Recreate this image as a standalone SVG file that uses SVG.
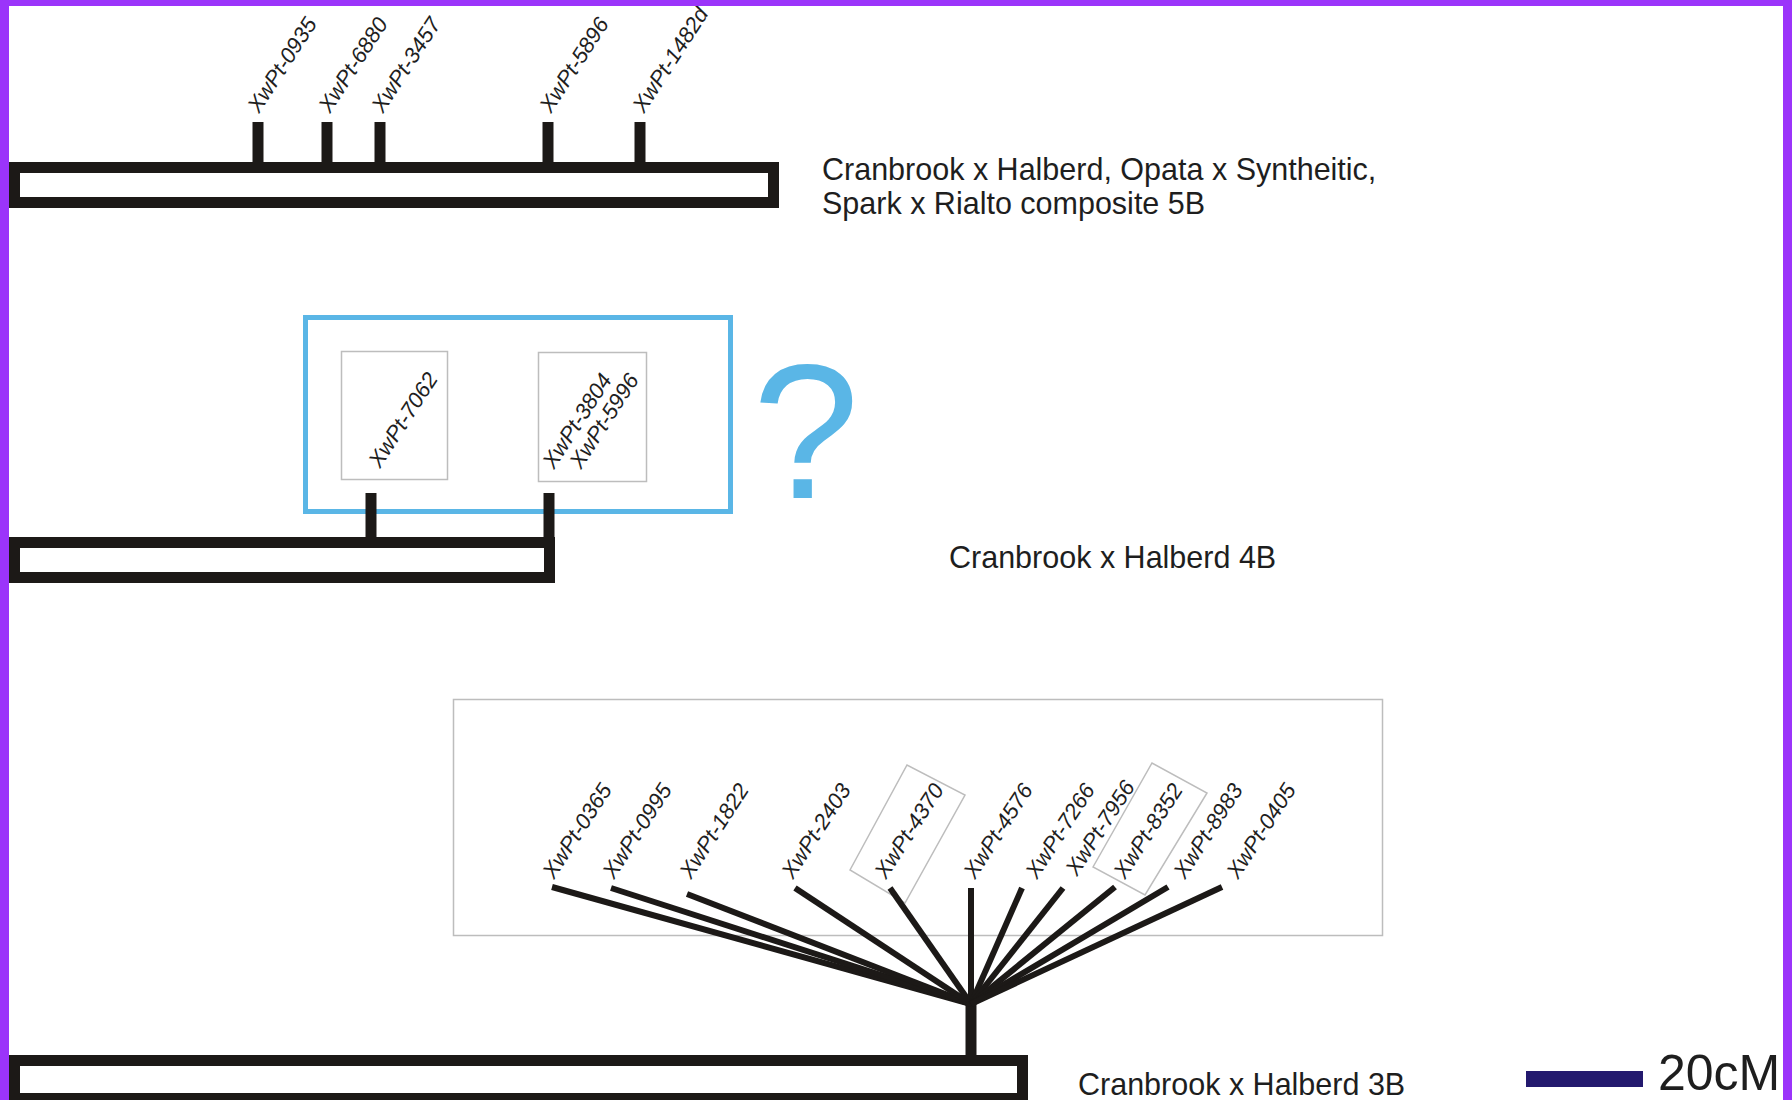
<svg xmlns="http://www.w3.org/2000/svg" width="1792" height="1100" viewBox="0 0 1792 1100">
  <style>
    .chrom { fill: #ffffff; stroke: #1c1917; stroke-width: 11; }
    .tick { stroke: #1c1917; stroke-width: 11; stroke-linecap: butt; }
    .fan { stroke: #1c1917; stroke-width: 6; stroke-linecap: butt; fill: none; }
    .mk { font-family: "Liberation Sans", Arial, sans-serif; font-style: italic; font-size: 22px; fill: #1e1e1e; }
    .title { font-family: "Liberation Sans", Arial, sans-serif; font-size: 30.5px; fill: #1e1e1e; }
    .thin { fill: none; stroke: #bdbdbd; stroke-width: 1.5; }
    .blue { fill: none; stroke: #5ab6e6; stroke-width: 5; }
    .frame { fill: #9b34fa; }
  </style>

  <rect x="0" y="0" width="1792" height="1100" fill="#ffffff"/>

  <!-- 5B composite linkage group -->
  <g id="chr-5B">
    <rect class="chrom" x="14.5" y="167.5" width="759" height="35"/>
    <text class="title" x="822" y="180">Cranbrook x Halberd, Opata x Syntheitic,</text>
    <text class="title" x="822" y="214">Spark x Rialto composite 5B</text>
  </g>
  <g id="markers-5B" class="mk">
    <text transform="translate(259,114) rotate(-57)">XwPt-0935</text>
    <text transform="translate(330,114) rotate(-57)">XwPt-6880</text>
    <text transform="translate(383,114) rotate(-57)">XwPt-3457</text>
    <text transform="translate(551,114) rotate(-57)">XwPt-5896</text>
    <text transform="translate(644,114) rotate(-57)">XwPt-1482d</text>
  </g>

  <!-- 4B linkage group -->
  <g id="chr-4B">
    <rect class="chrom" x="14.5" y="542.5" width="535" height="35"/>
    <text class="title" x="949" y="568">Cranbrook x Halberd 4B</text>
  </g>
  <g id="uncertain-4B">
    <rect class="blue" x="305.5" y="317.5" width="425" height="194"/>
    <rect class="thin" x="341.5" y="351.5" width="106" height="128"/>
    <rect class="thin" x="538.5" y="352.5" width="108" height="129"/>
    <text x="806" y="498" text-anchor="middle" font-family="Liberation Sans, Arial, sans-serif" font-size="192" fill="#5ab6e6">?</text>
  </g>
  <g id="markers-4B" class="mk">
    <text transform="translate(380,469) rotate(-57)">XwPt-7062</text>
    <text transform="translate(554,470) rotate(-57)">XwPt-3804</text>
    <text transform="translate(581,470) rotate(-57)">XwPt-5996</text>
  </g>

  <!-- 3B linkage group -->
  <g id="chr-3B">
    <rect class="chrom" x="14.5" y="1060.5" width="1008" height="38"/>
    <text class="title" x="1078" y="1095">Cranbrook x Halberd 3B</text>
  </g>
  <g id="cluster-3B">
    <rect class="thin" x="453.5" y="699.5" width="929" height="236"/>
    <polygon class="thin" points="850,870 907,765 965,795 905,903"/>
    <polygon class="thin" points="1093,867 1152,763 1207,793 1145,895"/>
  </g>
  <g id="markers-3B" class="mk">
    <text transform="translate(554,880) rotate(-57)">XwPt-0365</text>
    <text transform="translate(614,880) rotate(-57)">XwPt-0995</text>
    <text transform="translate(691,880) rotate(-57)">XwPt-1822</text>
    <text transform="translate(793,880) rotate(-57)">XwPt-2403</text>
    <text transform="translate(886,880) rotate(-57)">XwPt-4370</text>
    <text transform="translate(975,880) rotate(-57)">XwPt-4576</text>
    <text transform="translate(1037,880) rotate(-57)">XwPt-7266</text>
    <text transform="translate(1077,877) rotate(-57)">XwPt-7956</text>
    <text transform="translate(1125,880) rotate(-57)">XwPt-8352</text>
    <text transform="translate(1185,880) rotate(-57)">XwPt-8983</text>
    <text transform="translate(1238,880) rotate(-57)">XwPt-0405</text>
  </g>

  <!-- marker ticks and fan connectors -->
  <g id="connectors">
    <line class="tick" x1="258" y1="122" x2="258" y2="163"/>
    <line class="tick" x1="327" y1="122" x2="327" y2="163"/>
    <line class="tick" x1="380" y1="122" x2="380" y2="163"/>
    <line class="tick" x1="548" y1="122" x2="548" y2="163"/>
    <line class="tick" x1="640" y1="122" x2="640" y2="163"/>

    <line class="tick" x1="371" y1="493" x2="371" y2="538"/>
    <line class="tick" x1="549" y1="493" x2="549" y2="538"/>

    <line class="tick" x1="971" y1="1003" x2="971" y2="1056"/>
    <line class="fan" x1="552" y1="887" x2="971" y2="1004"/>
    <line class="fan" x1="611" y1="888" x2="971" y2="1004"/>
    <line class="fan" x1="687" y1="894" x2="971" y2="1004"/>
    <line class="fan" x1="795" y1="888" x2="971" y2="1004"/>
    <line class="fan" x1="890" y1="888" x2="971" y2="1004"/>
    <line class="fan" x1="971" y1="888" x2="971" y2="1004"/>
    <line class="fan" x1="1022" y1="888" x2="971" y2="1004"/>
    <line class="fan" x1="1063" y1="888" x2="971" y2="1004"/>
    <line class="fan" x1="1115" y1="887" x2="971" y2="1004"/>
    <line class="fan" x1="1168" y1="887" x2="971" y2="1004"/>
    <line class="fan" x1="1222" y1="887" x2="971" y2="1004"/>
  </g>

  <!-- scale bar -->
  <g id="scale">
    <rect x="1526" y="1071" width="117" height="16" fill="#23196e"/>
    <text x="1658" y="1090" font-family="Liberation Sans, Arial, sans-serif" font-size="50" fill="#1e1e1e">20cM</text>
  </g>

  <!-- page frame: left, top and right edges -->
  <g id="frame">
    <rect class="frame" x="0" y="0" width="9" height="1100"/>
    <rect class="frame" x="0" y="0" width="1792" height="6"/>
    <rect class="frame" x="1783" y="0" width="9" height="1100"/>
  </g>
</svg>
